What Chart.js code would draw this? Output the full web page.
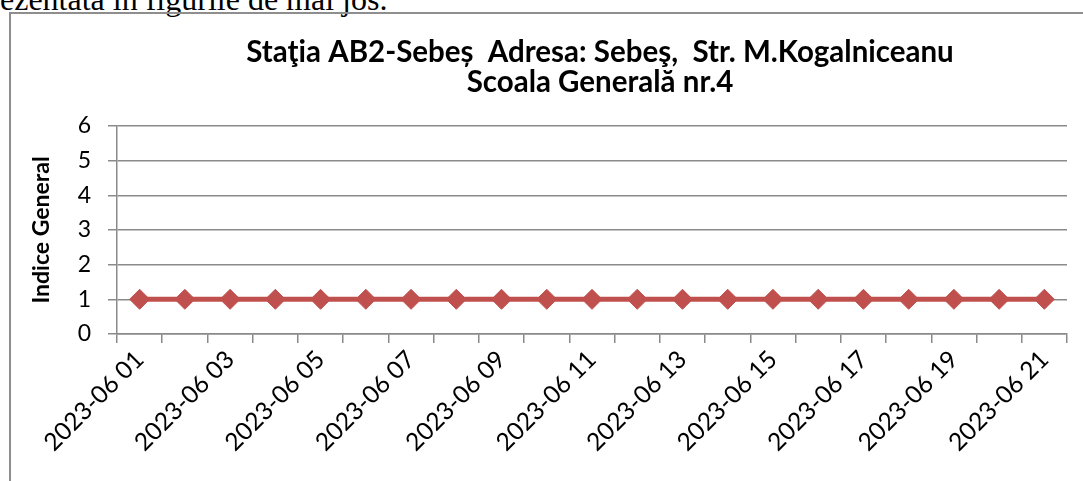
<!DOCTYPE html>
<html>
<head>
<meta charset="utf-8">
<script src="https://cdn.jsdelivr.net/npm/chart.js@4"></script>
<style>
    body { margin: 0; width: 1083px; height: 481px; overflow: hidden; background: #fff; position: relative; }
    #sus { position: absolute; left: 0; top: -17px; font-family: "Liberation Serif", serif; font-size: 32px; line-height: 32px; color: #000; white-space: nowrap; }
    #cadru { position: absolute; left: 9px; top: 12px; width: 1100px; height: 500px; border-top: 2px solid #8e8e8e; border-left: 2px solid #8e8e8e; }
    #grafic { position: absolute; left: 11px; top: 14px; }
</style>
</head>
<body>
<div id="sus">ezentată în figurile de mai jos.</div>
<div id="cadru"></div>
<!-- canvasul iese in dreapta, ca titlul sa fie centrat pe tot cadrul -->
<canvas id="grafic" width="1161" height="467"></canvas>
<script>
// date statie AB2 Sebes, iunie 2023
const zile = ['2023-06 01', '2023-06 02', '2023-06 03', '2023-06 04', '2023-06 05', '2023-06 06', '2023-06 07',
    '2023-06 08', '2023-06 09', '2023-06 10', '2023-06 11', '2023-06 12', '2023-06 13', '2023-06 14',
    '2023-06 15', '2023-06 16', '2023-06 17', '2023-06 18', '2023-06 19', '2023-06 20', '2023-06 21'];
const indiceGeneral = [1, 1, 1, 1, 1, 1, 1, 1, 1, 1, 1, 1, 1, 1, 1, 1, 1, 1, 1, 1, 1];
const valoriY = [0, 1, 2, 3, 4, 5, 6];
const titlu = ['Staţia AB2-Sebeș  Adresa: Sebeş,  Str. M.Kogalniceanu', 'Scoala Generală nr.4'];

const font = 'Lato, "Liberation Sans", sans-serif';
const gri = '#8a8a8a';

const ctx = document.getElementById('grafic').getContext('2d');
new Chart(ctx, {
    type: 'line',
    data: {
        labels: zile,
        datasets: [{
            label: 'Indice General',
            data: indiceGeneral,
            borderColor: '#C0504D',
            backgroundColor: '#C0504D',
            borderWidth: 5,
            pointStyle: 'rectRot',
            pointRadius: 10,
            pointBorderWidth: 1,
            pointBorderColor: '#C0504D',
            pointBackgroundColor: '#C0504D',
            tension: 0
        }]
    },
    options: {
        responsive: false,
        animation: false,
        layout: { autoPadding: false, padding: { left: 17, right: 0, top: 0, bottom: 22 } },
        plugins: {
            legend: { display: false },
            tooltip: { enabled: false },
            title: {
                display: true,
                text: titlu,
                color: '#000',
                font: { family: font, size: 29.5, weight: 'bold', lineHeight: 1.0 },
                padding: { top: 24, bottom: 29 }
            }
        },
        scales: {
            x: {
                offset: true,
                grid: { offset: true, drawOnChartArea: false, color: gri, lineWidth: 1.5, tickLength: 9 },
                border: { color: gri, width: 1.5 },
                ticks: {
                    autoSkip: false,
                    minRotation: 45,
                    maxRotation: 45,
                    color: '#000',
                    font: { family: font, size: 24.5 },
                    padding: 2,
                    callback: function (v, i) { return i % 2 === 0 ? this.getLabelForValue(v) : ''; }
                }
            },
            y: {
                min: 0,
                max: 6,
                afterBuildTicks: axis => { axis.ticks = valoriY.map(v => ({ value: v })); },
                afterFit: axis => { axis.width = 89; },
                grid: { color: gri, lineWidth: 1.5, tickLength: 9 },
                border: { color: gri, width: 1.5 },
                ticks: { color: '#000', font: { family: font, size: 23 }, padding: 17 },
                title: {
                    display: true,
                    text: 'Indice General',
                    color: '#000',
                    font: { family: font, size: 23, weight: 'bold', lineHeight: 1.2 },
                    padding: { top: 0, bottom: 3 }
                }
            },
            // axa goala in dreapta: doar rezerva spatiu
            spatiu: {
                position: 'right',
                display: true,
                grid: { display: false },
                border: { display: false },
                ticks: { display: false },
                afterFit: axis => { axis.width = 105; }
            }
        }
    }
});
</script>
</body>
</html>
